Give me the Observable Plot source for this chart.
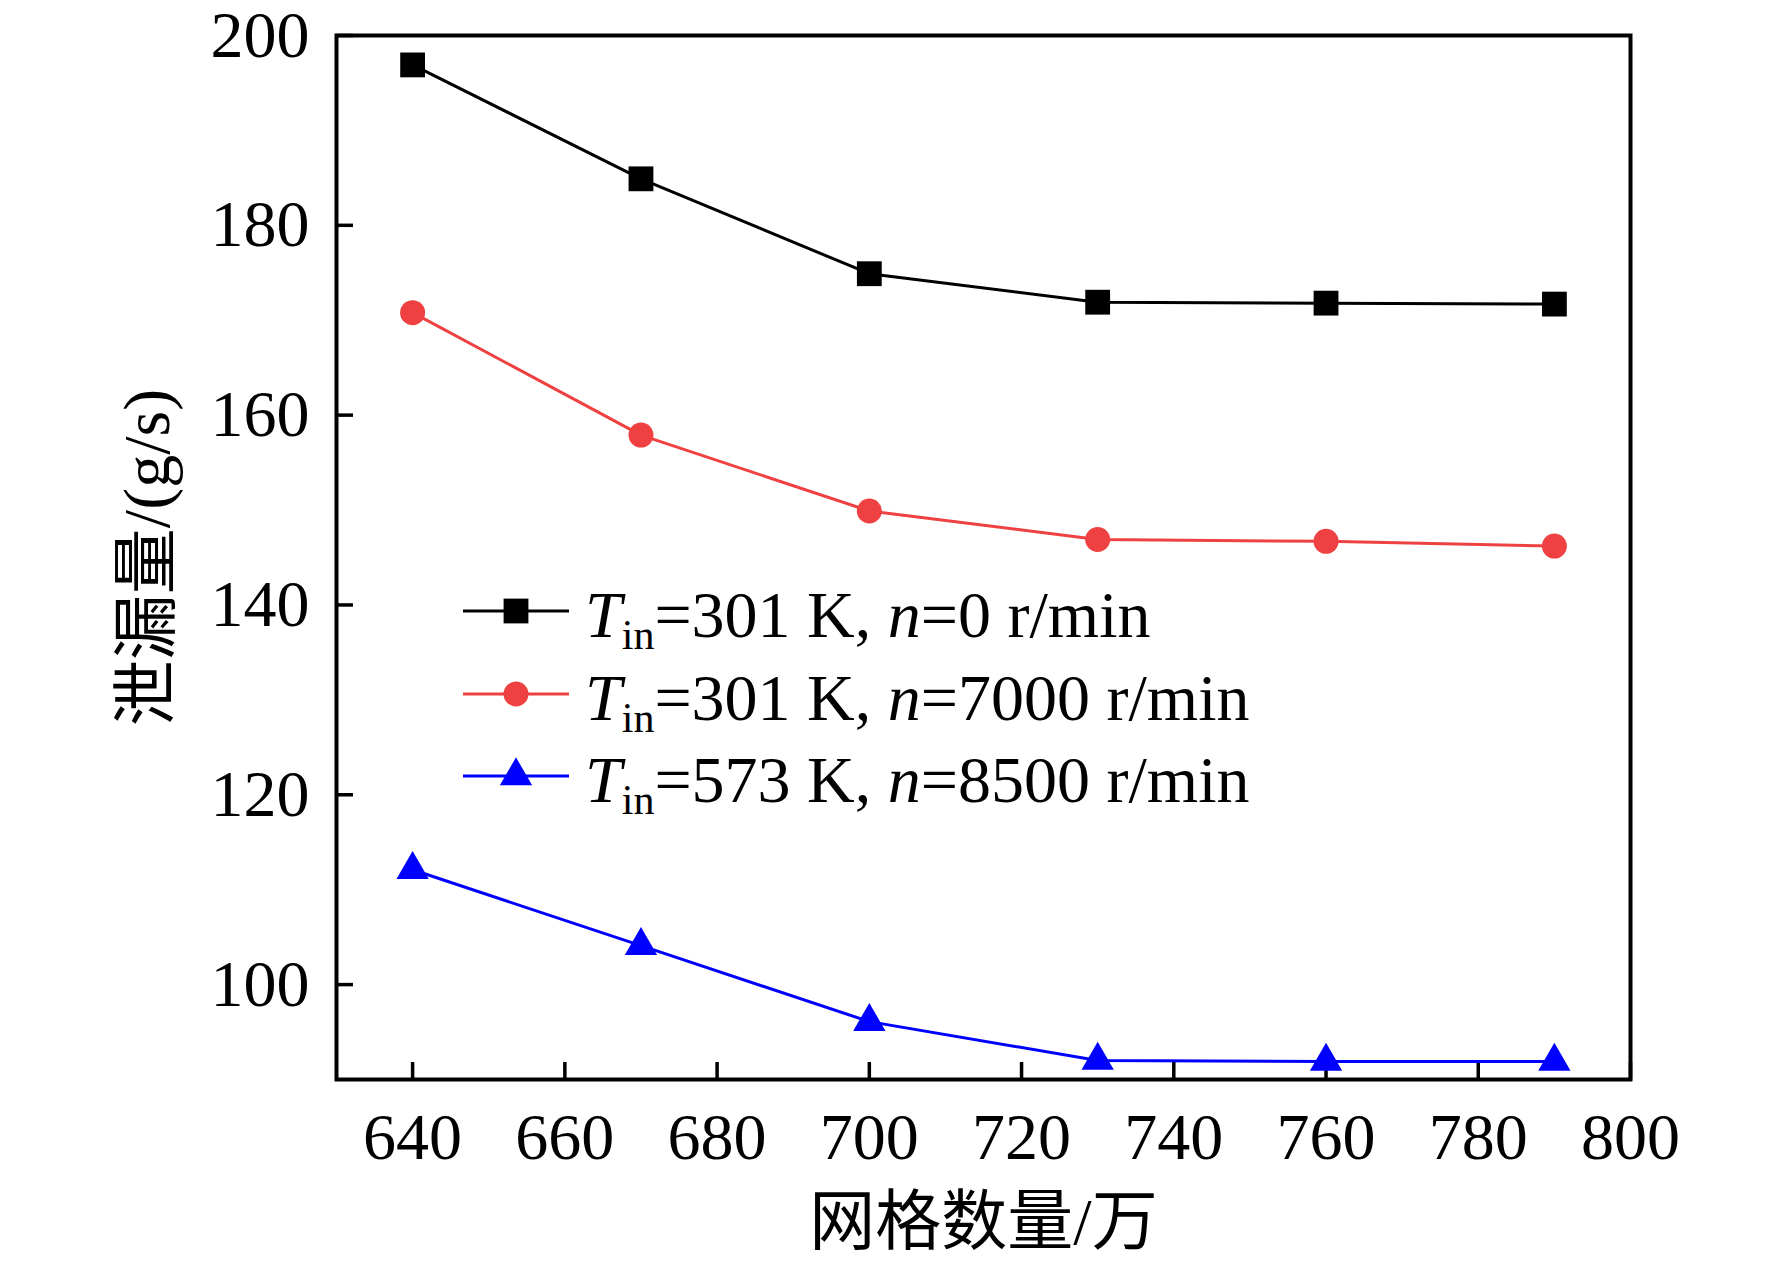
<!DOCTYPE html>
<html><head><meta charset="utf-8">
<script src="https://cdn.jsdelivr.net/npm/d3@7"></script>
<script src="https://cdn.jsdelivr.net/npm/@observablehq/plot@0.6"></script>
<style>
body{margin:0;background:#fff;}
#wrap{position:relative;width:1772px;height:1265px;overflow:hidden;}
#legend{position:absolute;left:0;top:0;}
</style></head><body><div id="wrap"></div>
<script>
// ---- data ----
const gridCounts = [640, 670, 700, 730, 760, 790];
const leakA = [196.9, 184.9, 174.9, 171.9, 171.8, 171.7];   // Tin=301 K, n=0
const leakB = [170.8, 157.9, 149.9, 146.9, 146.7, 146.2];   // Tin=301 K, n=7000
const leakC = [112.1, 104.1, 96.1, 92.0, 91.9, 91.9];       // Tin=573 K, n=8500
const seriesKeys = ["A", "B", "C"];
const seriesTemp = ["301", "301", "573"];
const seriesSpeed = ["0", "7000", "8500"];
const seriesColors = ["#000000", "#ef4141", "#0000ff"];
const seriesSymbols = ["square", "circle", "triangle"];
const xTicks = [640, 660, 680, 700, 720, 740, 760, 780, 800];
const yTicks = [100, 120, 140, 160, 180, 200];
const xLabel = "网格数量/万";
const yLabel = "泄漏量/(g/s)";

const values = [leakA, leakB, leakC];
const rows = seriesKeys.flatMap((k, i) => gridCounts.map((g, j) => ({series: k, grid: g, leak: values[i][j]})));

const W = 1772, H = 1265;
const font = "'Liberation Serif', 'Times New Roman', 'Noto Sans CJK SC', serif";
const symR = {square: 14, circle: 12.5, triangle: 12};

const marks = [
  Plot.frame({stroke: "#000", strokeWidth: 4}),
  Plot.axisX({ticks: xTicks, tickSize: -17, tickPadding: 50, strokeWidth: 3.5,
    tickFormat: d => String(d), fontSize: 66, label: xLabel, labelAnchor: "center",
    labelOffset: 164, labelArrow: "none"}),
  Plot.axisY({ticks: yTicks, tickSize: -17, tickPadding: 44, strokeWidth: 3.5,
    tickFormat: d => String(d), fontSize: 66, label: yLabel, labelAnchor: "center",
    labelOffset: 214, labelArrow: "none"})
];
seriesKeys.forEach((k, i) => {
  const d = rows.filter(r => r.series === k);
  marks.push(Plot.line(d, {x: "grid", y: "leak", stroke: seriesColors[i], strokeWidth: 3}));
  marks.push(Plot.dot(d, {x: "grid", y: "leak", fill: seriesColors[i], stroke: "none",
    symbol: seriesSymbols[i], r: symR[seriesSymbols[i]]}));
});

const chart = Plot.plot({
  width: W, height: H,
  marginLeft: 336, marginRight: 142, marginTop: 35, marginBottom: 186,
  x: {domain: [630, 800]},
  y: {domain: [90, 200]},
  style: {fontFamily: font, background: "#fff", color: "#000"},
  marks
});
document.getElementById("wrap").appendChild(chart);

// ---- legend overlay ----
const lg = d3.select("#wrap").append("svg").attr("id", "legend")
  .attr("width", W).attr("height", H)
  .style("font-family", font).style("font-size", "66px");
const rowY = [611, 694, 776];
seriesKeys.forEach((k, i) => {
  const g = lg.append("g").attr("transform", `translate(0,${rowY[i]})`);
  g.append("line").attr("x1", 463).attr("x2", 569).attr("y1", 0).attr("y2", 0)
    .attr("stroke", seriesColors[i]).attr("stroke-width", 3);
  const sym = {square: d3.symbolSquare, circle: d3.symbolCircle, triangle: d3.symbolTriangle}[seriesSymbols[i]];
  const r = symR[seriesSymbols[i]];
  g.append("path").attr("transform", "translate(516,0)")
    .attr("d", d3.symbol(sym, r * r * Math.PI)()).attr("fill", seriesColors[i]);
  const t = g.append("text").attr("x", 585).attr("y", 26);
  t.append("tspan").attr("font-style", "italic").text("T");
  t.append("tspan").attr("font-size", "42px").attr("dy", 12).text("in");
  t.append("tspan").attr("dy", -12).text(`=${seriesTemp[i]} K, `);
  t.append("tspan").attr("font-style", "italic").text("n");
  t.append("tspan").text(`=${seriesSpeed[i]} r/min`);
});
</script>
</body></html>
